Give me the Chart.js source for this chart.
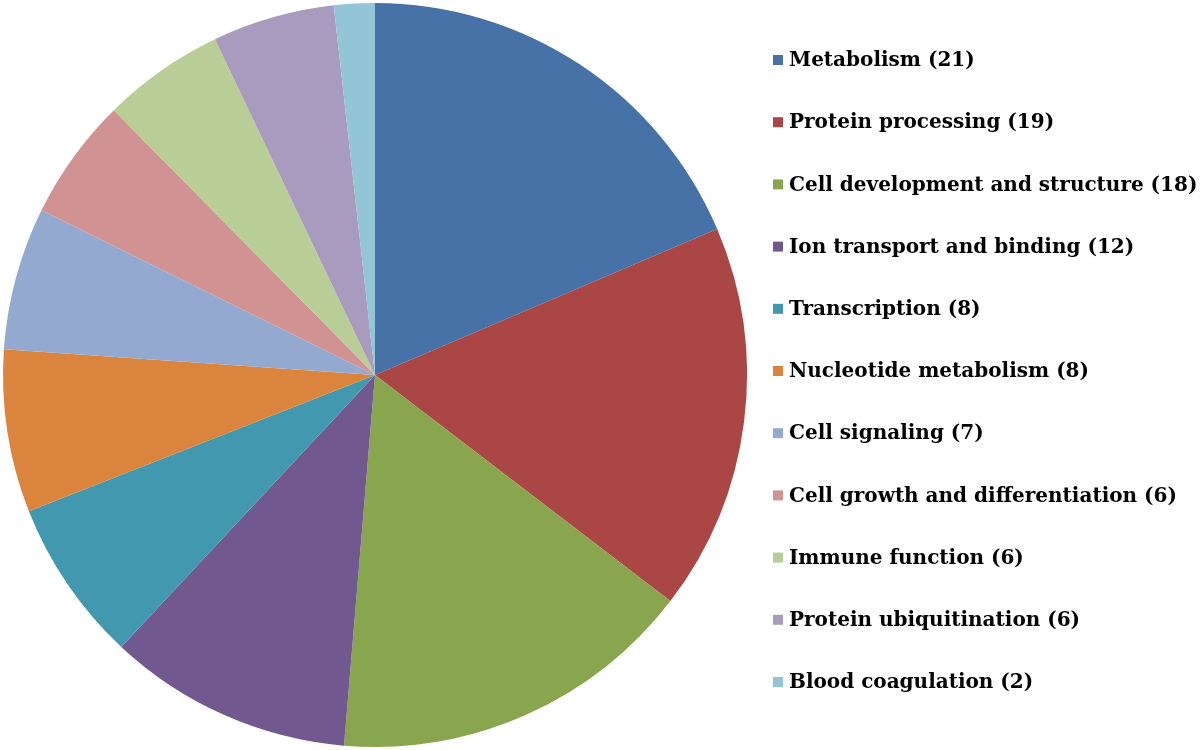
<!DOCTYPE html>
<html>
<head>
<meta charset="utf-8">
<script src="https://cdn.jsdelivr.net/npm/chart.js@4"></script>
<style>
  html, body { margin: 0; padding: 0; background: #fff; }
  #wrap { position: relative; width: 1200px; height: 750px; }
</style>
</head>
<body>
<div id="wrap"><canvas id="pie" width="1200" height="750"></canvas></div>
<script>
var categories = [
  "Metabolism", "Protein processing", "Cell development and structure",
  "Ion transport and binding", "Transcription", "Nucleotide metabolism",
  "Cell signaling", "Cell growth and differentiation", "Immune function",
  "Protein ubiquitination", "Blood coagulation"
]
var counts = [21, 19, 18, 12, 8, 8, 7, 6, 6, 6, 2]
var colors = [
  "#4672a8", "#aa4643", "#89a54e", "#71588f", "#4198af", "#db843d",
  "#93a9cf", "#d19392", "#b9cd96", "#a99bbd", "#92c5d6"
]

// legend drawn on the canvas, right of the pie
var sideLegend = {
  id: "sideLegend",
  afterDraw: function(chart) {
    var ctx = chart.ctx
    ctx.save()
    ctx.font = "bold 20px 'DejaVu Serif'"
    ctx.textBaseline = "middle"
    for (var i = 0; i < categories.length; i++) {
      var y = 60 + i * 62.2
      ctx.fillStyle = colors[i]
      ctx.fillRect(773, y - 5, 10, 10)
      ctx.fillStyle = "#000"
      ctx.fillText(categories[i] + " (" + counts[i] + ")", 789, y + 1)
    }
    ctx.restore()
  }
}

new Chart(document.getElementById("pie").getContext("2d"), {
  type: "pie",
  data: {
    labels: categories,
    datasets: [{
      data: counts,
      backgroundColor: colors,
      borderWidth: 0
    }]
  },
  options: {
    responsive: false,
    animation: false,
    layout: { padding: { left: 3, top: 3, bottom: 3, right: 453 } },
    plugins: {
      legend: { display: false },
      tooltip: { enabled: false }
    }
  },
  plugins: [sideLegend]
})
</script>
</body>
</html>
